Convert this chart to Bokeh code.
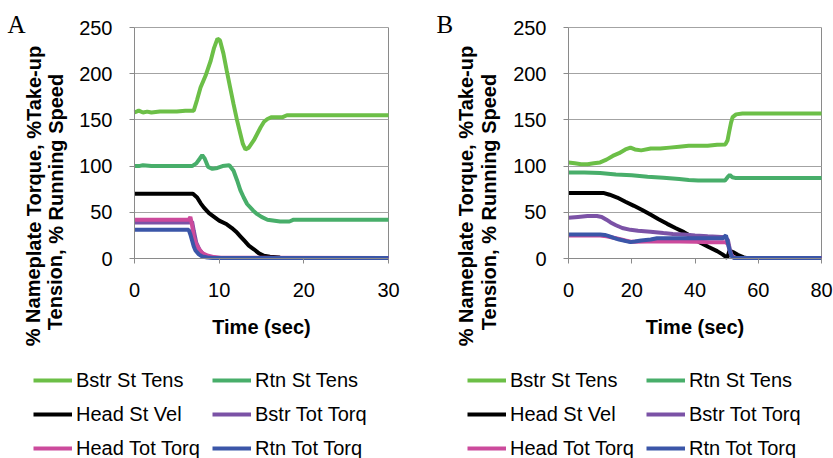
from bokeh.plotting import figure
from bokeh.models import Range1d, FixedTicker, Legend, LegendItem, Label
from bokeh.layouts import row
from bokeh.embed import file_html
from bokeh.resources import INLINE

# ---------------- data ----------------
series_names = ["Bstr St Tens", "Rtn St Tens", "Head St Vel",
                "Bstr Tot Torq", "Head Tot Torq", "Rtn Tot Torq"]
series_colors = ["#6cbf47", "#48ae6a", "#000000", "#7b52a6", "#cc4a9c", "#3b56a8"]

y_ticks = [0, 50, 100, 150, 200, 250]
a_x_ticks = [0, 10, 20, 30]
b_x_ticks = [0, 20, 40, 60, 80]

# Panel A
a_bstr_tens_t = [0, 0.5, 1, 1.5, 2, 3, 4, 5, 6, 7.0, 7.4, 7.8, 8.4, 9.0, 9.4, 9.8, 10.1, 10.5, 10.9,
                 11.3, 11.7, 12.1, 12.5, 12.8, 13.1, 13.5, 14.1, 14.5, 14.9, 15.3, 15.7, 16.2, 17.5, 18.0, 30]
a_bstr_tens = [158, 160, 158, 159, 158, 159, 159, 159, 160, 160, 172, 185, 198, 214, 228, 238, 236, 222, 203,
               185, 167, 150, 135, 124, 118, 120, 128, 135, 142, 148, 151, 153, 153, 155, 155]
a_rtn_tens_t = [0, 0.5, 1, 2, 6.8, 7.3, 7.7, 8.0, 8.3, 8.7, 9.2, 9.8, 10.4, 11.2, 11.7, 12.1, 12.5,
                12.9, 13.3, 14.0, 14.5, 15.0, 15.7, 17.2, 18.3, 18.8, 30]
a_rtn_tens = [100, 100, 101, 100, 100, 103, 108, 112, 108, 99, 97, 98, 100, 101, 95, 85, 74,
              66, 59, 52, 48, 45, 42, 40, 40, 42, 42]
a_head_vel_t = [0, 6.9, 7.4, 7.8, 8.2, 8.8, 9.4, 10.0, 10.9, 11.5, 12.0, 12.5, 13.0, 13.5, 14.1,
                14.7, 15.3, 16.0, 17.2]
a_head_vel = [70, 70, 66, 60, 55, 49, 45, 41, 37, 33, 29, 24, 19, 14, 10, 5.5, 3, 2, 1]
a_bstr_torq_t = [0, 6.5, 6.8, 7.0, 7.3, 7.7, 8.2, 8.8, 9.5, 30]
a_bstr_torq = [39, 39, 40, 30, 17, 9, 4, 1.5, 0.5, 0.5]
a_head_torq_t = [0, 6.4, 6.6, 6.8, 7.0, 7.3, 7.6, 8.0, 8.6, 9.4, 10.2, 30]
a_head_torq = [42, 42, 45, 36, 23, 15, 10.5, 6, 3.2, 1.5, 0.8, 0.5]
a_rtn_torq_t = [0, 6.4, 6.6, 6.8, 7.0, 7.2, 7.6, 8.0, 8.6, 9.3, 30]
a_rtn_torq = [31, 31, 26, 19.5, 13, 8.7, 4.5, 2.2, 1, 0.5, 0.5]

# Panel B
b_bstr_tens_t = [0, 2, 4, 6, 8, 10, 12, 14, 16, 18, 19.6, 21, 23, 26, 29, 32, 35, 38, 41, 44, 47,
                 49.6, 50.3, 50.8, 51.4, 51.9, 53, 55, 80]
b_bstr_tens = [104, 103, 102, 102, 103, 104, 107, 111, 114, 118, 120, 118, 117, 119, 119, 120, 121, 122,
               122, 122, 123, 123.5, 128, 137, 147, 153, 156, 157, 157]
b_rtn_tens_t = [0, 5, 10, 15, 20, 25, 30, 35, 38, 41, 45, 49.5, 50.3, 51, 51.8, 53, 80]
b_rtn_tens = [93, 93, 92.5, 91, 90, 88.5, 87.5, 86, 85, 84.5, 84.5, 84.5, 88, 90.5, 88, 87, 87]
b_head_vel_t = [0, 11, 13, 15.4, 18, 20.7, 23.3, 25.9, 28.5, 31.2, 33.8, 36.5, 39, 41.7, 44.3, 47,
                48.7, 50.2, 50.9, 52, 53.5, 55.4, 56.2]
b_head_vel = [71, 71, 69, 66, 61.5, 57, 52.5, 47.5, 42.5, 37.5, 33, 28.5, 23.5, 17, 12.5, 8, 4.5, 0.7,
              8.5, 7, 4, 1.2, 0.5]
b_bstr_torq_t = [0, 3, 6, 9, 10.5, 12, 13.3, 15, 17, 19.6, 22, 25.9, 30, 33, 36.5, 40, 44, 47, 49.6,
                 50.4, 51, 51.6, 52.5, 80]
b_bstr_torq = [44, 45, 46, 46, 45, 42, 39, 36, 33, 31, 30, 29, 27.5, 26.5, 26, 25, 24, 23.5, 23,
               20, 10, 3, 0.5, 0.5]
b_head_torq_t = [0, 10, 12, 15, 18, 20, 25, 30, 35, 40, 45, 49.8, 50.5, 51.2, 52, 53, 80]
b_head_torq = [25, 25, 24, 22, 19.5, 18, 18.5, 18.5, 18.5, 18, 17.5, 17.5, 15, 6, 1.5, 0.5, 0.5]
b_rtn_torq_t = [0, 5, 10, 11.5, 13, 14.3, 16, 18.5, 19.6, 21, 23, 26, 28, 32, 37, 42, 46, 48.9,
                49.4, 49.8, 50.3, 50.7, 51.2, 51.8, 52.5, 80]
b_rtn_torq = [26, 26, 26, 25.5, 24, 22.4, 20.5, 18.5, 17.7, 18.4, 19.5, 20.5, 22, 22, 22, 22, 22, 22,
              24, 25, 18, 12.3, 6, 1.4, 0.5, 0.5]

a_series = [(a_bstr_tens_t, a_bstr_tens), (a_rtn_tens_t, a_rtn_tens), (a_head_vel_t, a_head_vel),
            (a_bstr_torq_t, a_bstr_torq), (a_head_torq_t, a_head_torq), (a_rtn_torq_t, a_rtn_torq)]
b_series = [(b_bstr_tens_t, b_bstr_tens), (b_rtn_tens_t, b_rtn_tens), (b_head_vel_t, b_head_vel),
            (b_bstr_torq_t, b_bstr_torq), (b_head_torq_t, b_head_torq), (b_rtn_torq_t, b_rtn_torq)]

SANS = "Liberation Sans"
GRAY = "#8a8a8a"
FIG_H = 458
PLOT_TOP, PLOT_BOTTOM = 27, 258   # pixel rows of y=250 and y=0
YMAX = 250


def make_panel(letter, series, xmax, xticks, fig_w, left_px, right_px, letter_x,
               lab_x1, lab_x2, leg_x1, leg_x2):
    # pixel scales of the plotting area
    sx = (right_px - left_px) / xmax
    sy = (PLOT_BOTTOM - PLOT_TOP) / YMAX
    xr = Range1d(-left_px / sx, xmax + (fig_w - right_px) / sx)
    yr = Range1d(-(FIG_H - PLOT_BOTTOM) / sy, YMAX + PLOT_TOP / sy)
    p = figure(width=fig_w, height=FIG_H, x_range=xr, y_range=yr, title=None,
               output_backend="svg", toolbar_location=None, min_border=0)
    p.background_fill_color = "white"
    p.border_fill_color = "white"
    p.outline_line_color = None

    p.xaxis.ticker = FixedTicker(ticks=xticks)
    p.yaxis.ticker = FixedTicker(ticks=y_ticks)
    p.xaxis.fixed_location = 0
    p.yaxis.fixed_location = 0
    p.xaxis.bounds = (0, xmax)
    p.yaxis.bounds = (0, YMAX)

    p.ygrid.grid_line_color = "#a3a3a3"
    p.ygrid.cross_bounds = (0, xmax)
    p.xgrid.ticker = FixedTicker(ticks=[xmax])
    p.xgrid.grid_line_color = GRAY
    p.xgrid.cross_bounds = (0, YMAX)

    for ax in (p.xaxis[0], p.yaxis[0]):
        ax.axis_line_color = GRAY
        ax.major_tick_line_color = GRAY
        ax.minor_tick_line_color = None
        ax.major_tick_in = 0
        ax.major_tick_out = 5
        ax.major_label_text_font = SANS
        ax.major_label_text_font_size = "20px"
        ax.major_label_text_color = "black"
    p.xaxis.major_label_standoff = 19
    p.yaxis.major_label_standoff = 17
    p.xaxis.axis_label = "Time (sec)"
    p.xaxis.axis_label_text_font = SANS
    p.xaxis.axis_label_text_font_style = "bold"
    p.xaxis.axis_label_text_font_size = "20px"
    p.xaxis.axis_label_text_color = "black"
    p.xaxis.axis_label_standoff = 16

    renderers = []
    for (t, v), name, col in zip(series, series_names, series_colors):
        r = p.line(t, v, line_color=col, line_width=4)
        renderers.append(r)

    col1 = [LegendItem(label=series_names[i], renderers=[renderers[i]]) for i in (0, 2, 4)]
    col2 = [LegendItem(label=series_names[i], renderers=[renderers[i]]) for i in (1, 3, 5)]
    for items, xoff in ((col1, leg_x1), (col2, leg_x2)):
        lg = Legend(items=items, location=(xoff, -2), orientation="vertical",
                    glyph_width=39, glyph_height=24, label_height=24, label_standoff=4,
                    spacing=10, padding=0, margin=0, border_line_color=None,
                    background_fill_alpha=0, label_text_font=SANS,
                    label_text_font_size="20px", label_text_color="black")
        p.add_layout(lg, "center")

    lab1 = Label(x=lab_x1, y=262.5, x_units="screen", y_units="screen",
                 text="% Nameplate Torque, %Take-up", angle=1.5707963, text_align="center",
                 text_baseline="middle", text_font=SANS, text_font_style="bold",
                 text_font_size="20px", text_color="black")
    lab2 = Label(x=lab_x2, y=256.5, x_units="screen", y_units="screen",
                 text="Tension, % Running Speed", angle=1.5707963, text_align="center",
                 text_baseline="middle", text_font=SANS, text_font_style="bold",
                 text_font_size="20px", text_color="black")
    p.add_layout(lab1)
    p.add_layout(lab2)
    lt = Label(x=letter_x, y=434, x_units="screen", y_units="screen", text=letter,
               text_align="left", text_baseline="alphabetic", text_font="Liberation Serif",
               text_font_size="25px", text_color="black")
    p.add_layout(lt)
    return p


pA = make_panel("A", a_series, 30, a_x_ticks, 420, 134, 388, 7, 33, 55, 33, 212)
pB = make_panel("B", b_series, 80, b_x_ticks, 413, 148, 401, 16, 45, 68, 47, 226)

layout = row(pA, pB)
open("out.html", "w").write(file_html(layout, INLINE))
